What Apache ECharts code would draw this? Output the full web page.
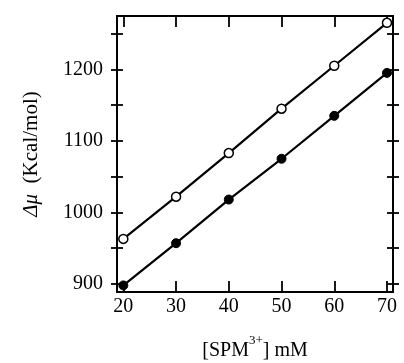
<!DOCTYPE html>
<html>
<head>
<meta charset="utf-8">
<script src="https://cdn.jsdelivr.net/npm/echarts@6/dist/echarts.min.js"></script>
<style>html,body{margin:0;padding:0;background:#fff}#c{width:404px;height:363px}</style>
</head>
<body>
<div id="c"></div>
<script>
const spm = [20, 30, 40, 50, 60, 70];
const openSeries = [963, 1022, 1083, 1145, 1205, 1265];
const filledSeries = [898, 957, 1018, 1075, 1135, 1195];
const xTicks = [20, 30, 40, 50, 60, 70];
const yLabels = [900, 1000, 1100, 1200];
const yTicks = [900, 950, 1000, 1050, 1100, 1150, 1200, 1250];

const FONT = 'Liberation Serif';
const X_MIN = 18.8, X_MAX = 71.14, Y_MIN = 888.8, Y_MAX = 1274.5;
const lineStyle = { color: '#000', width: 1.8 };
const G = { left: 117, top: 16, width: 276, height: 276, containLabel: false, outerBoundsMode: 'none' };

function xAx(pos, labels, grid) {
  return {
    type: 'value', position: pos, min: X_MIN, max: X_MAX, gridIndex: grid || 0,
    axisLine: { show: true, onZero: false, lineStyle: lineStyle },
    axisTick: { show: true, inside: true, length: 11, lineStyle: lineStyle, customValues: xTicks },
    axisLabel: labels ? { show: true, customValues: xTicks, margin: 5, color: '#000', fontFamily: FONT, fontSize: 20, formatter: v => String(v) } : { show: false },
    splitLine: { show: false }
  };
}
function yAx(pos, inside, labels, grid, extra) {
  return Object.assign({
    type: 'value', position: pos, min: Y_MIN, max: Y_MAX, gridIndex: grid,
    axisLine: { show: true, onZero: false, lineStyle: lineStyle },
    axisTick: { show: true, inside: inside, length: 6, lineStyle: lineStyle, customValues: yTicks },
    axisLabel: labels ? { show: true, customValues: yLabels, margin: 14, color: '#000', fontFamily: FONT, fontSize: 20, formatter: v => String(v) } : { show: false },
    splitLine: { show: false }
  }, extra || {});
}

const chart = echarts.init(document.getElementById('c'));
chart.setOption({
  animation: false,
  backgroundColor: '#fff',
  textStyle: { fontFamily: FONT },
  grid: [G, Object.assign({}, G)],
  xAxis: [
    Object.assign(xAx('bottom', true, 0), {
      name: '[SPM{sup|3+}] mM', nameLocation: 'middle', nameGap: 42,
      nameTextStyle: {
        color: '#000', fontFamily: FONT, fontSize: 20, lineHeight: 34,
        rich: { sup: { fontSize: 13, fontFamily: FONT, color: '#000', verticalAlign: 'top', lineHeight: 13 } }
      }
    }),
    xAx('top', false, 0),
    Object.assign(xAx('bottom', false, 1), { show: false })
  ],
  yAxis: [
    yAx('left', false, true, 0, {
      name: '{i|Δμ}  (Kcal/mol)', nameLocation: 'middle', nameGap: 75, nameRotate: 90,
      nameTextStyle: {
        color: '#000', fontFamily: FONT, fontSize: 21,
        rich: { i: { fontStyle: 'italic', fontFamily: FONT, fontSize: 21, color: '#000' } }
      }
    }),
    yAx('right', false, false, 0),
    yAx('left', true, false, 1),
    yAx('right', true, false, 1)
  ],
  series: [
    {
      type: 'line', xAxisIndex: 0, yAxisIndex: 0,
      data: spm.map((x, i) => [x, openSeries[i]]),
      symbol: 'circle', symbolSize: 9,
      lineStyle: { color: '#000', width: 2.2 },
      itemStyle: { color: '#fff', borderColor: '#000', borderWidth: 1.5 },
      z: 3
    },
    {
      type: 'line', xAxisIndex: 0, yAxisIndex: 0,
      data: spm.map((x, i) => [x, filledSeries[i]]),
      symbol: 'circle', symbolSize: 9,
      lineStyle: { color: '#000', width: 2.2 },
      itemStyle: { color: '#000', borderColor: '#000', borderWidth: 1 },
      z: 3
    }
  ]
});
</script>
</body>
</html>
